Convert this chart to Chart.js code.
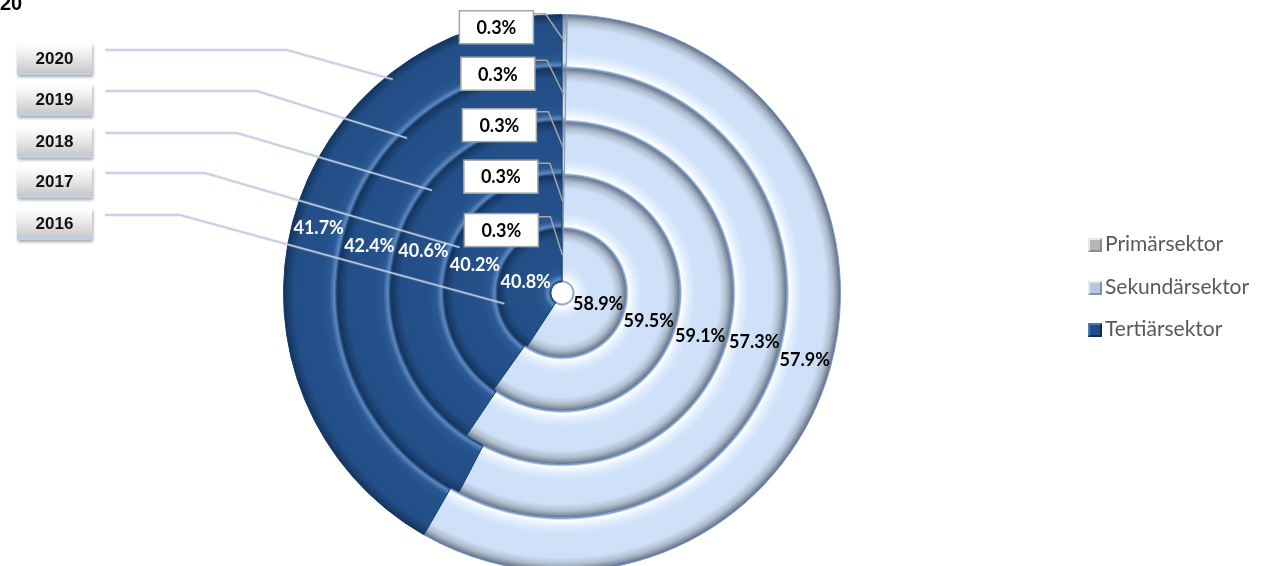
<!DOCTYPE html>
<html>
<head>
<meta charset="utf-8">
<script src="https://cdn.jsdelivr.net/npm/chart.js@4.4.0/dist/chart.umd.min.js"></script>
<style>
  html, body { margin: 0; padding: 0; background: #fff; width: 1270px; height: 566px; overflow: hidden; }
  #wrap { position: absolute; left: 0; top: 0; width: 1270px; height: 600px; }
  .titel { position: absolute; left: 0; top: -8px; font: bold 20px "Liberation Sans", Arial, sans-serif; color: #000; }
  .jahr { position: absolute; left: 17px; width: 75px; height: 31px; box-sizing: border-box;
          background: linear-gradient(#ffffff, #ececec 40%, #c8c8c8);
          border-bottom: 2px solid #bcd0ea; box-shadow: 1px 2px 3px rgba(0,0,0,.35);
          font: bold 17px "Liberation Sans", Arial, sans-serif; color: #111; text-align: center; line-height: 30px; }
  .lg { position: absolute; left: 1088px; height: 26px; font: 21px Lato, "Open Sans", sans-serif; color: #595959; line-height: 26px; white-space: nowrap; }
  .lg i { display: inline-block; width: 10px; height: 10px; border: 2px solid; margin-right: 3px; vertical-align: -1px; }
</style>
</head>
<body>
<div id="wrap"><canvas id="ringe"></canvas></div>
<div class="titel">20</div>
<div id="jahre"></div>
<div id="legende"></div>
<script>
// Ringe von außen (2020) nach innen (2016)
const jahre = ['2020', '2019', '2018', '2017', '2016'];
const sektoren = ['Primärsektor', 'Sekundärsektor', 'Tertiärsektor'];
const primaer = [0.3, 0.3, 0.3, 0.3, 0.3];
const sekundaer = [57.9, 57.3, 59.1, 59.5, 58.9];
const tertiaer = [41.7, 42.4, 40.6, 40.2, 40.8];

const flach = ['#c3ccd8', '#cfe1f9', '#24518a'];
const verlauf = [
  [[0, '#7f8da0'], [0.1, '#dfe5ee'], [0.5, '#c3ccd8'], [0.9, '#8d99aa'], [1, '#5d6d84']],
  [[0, '#6f95c8'], [0.04, '#ffffff'], [0.13, '#e6f0fd'], [0.28, '#d0e2fa'], [0.74, '#cde0f8'], [0.87, '#aebccd'], [0.96, '#7b8798'], [1, '#47699c']],
  [[0, '#1d4475'], [0.05, '#5d88c2'], [0.14, '#2a5892'], [0.3, '#24518a'], [0.8, '#234f88'], [0.93, '#1a3e6d'], [1, '#12305a']]
];
const randFarbe = ['#8a96a6', '#7d9cc6', '#1a3f6e'];

function ringFill(ctx) {
  if (ctx.type !== 'data') return flach[0];
  const chart = ctx.chart, a = chart.chartArea;
  const base = flach[ctx.dataIndex];
  if (!a) return base;
  const ctrl = chart.getDatasetMeta(ctx.datasetIndex).controller;
  const r0 = ctrl.innerRadius, r1 = ctrl.outerRadius;
  if (!(r1 > r0)) return base;
  const cx = (a.left + a.right) / 2, cy = (a.top + a.bottom) / 2;
  const g = chart.ctx.createRadialGradient(cx, cy, r0, cx, cy, r1);
  verlauf[ctx.dataIndex].forEach(s => g.addColorStop(s[0], s[1]));
  return g;
}

// Jahreskästen links
const jahrTop = [44, 85, 127, 167, 209];
const linieKnick = [287, 257, 237, 205, 180];
const linieWinkel = [321.6, 315, 308.3, 294, 259.5];
jahre.forEach((j, i) => {
  const d = document.createElement('div');
  d.className = 'jahr';
  d.style.top = jahrTop[i] + 'px';
  d.textContent = j;
  document.getElementById('jahre').appendChild(d);
});

// Legende rechts
const iconFarben = [
  ['#e6e6e6', '#8c8c8c', '#b5b5b5'],
  ['#e0e8f2', '#7f93ad', '#b7c6da'],
  ['#4f78b0', '#0f2a4f', '#1f4e86']
];
sektoren.forEach((s, i) => {
  const d = document.createElement('div');
  d.className = 'lg';
  d.style.top = (230 + i * 42.5) + 'px';
  const f = iconFarben[i];
  d.innerHTML = '<i style="background:' + f[2] + ';border-color:' + f[0] + ' ' + f[1] + ' ' + f[1] + ' ' + f[0] + '"></i>' + s;
  document.getElementById('legende').appendChild(d);
});

const boxVersatz = [[-68, -14], [-66, -21], [-64, -23], [-62, -25], [-61, -25]];

const beschriftung = {
  id: 'beschriftung',
  afterDatasetsDraw(chart) {
    const c = chart.ctx;
    const a = chart.chartArea;
    const cx = (a.left + a.right) / 2, cy = (a.top + a.bottom) / 2;
    c.save();
    // Linien von den Jahreskästen zu den Ringen
    chart.data.datasets.forEach((ds, di) => {
      const ctrl = chart.getDatasetMeta(di).controller;
      const r = ctrl.outerRadius - 6;
      const w = linieWinkel[di] * Math.PI / 180;
      const ex = cx + r * Math.sin(w), ey = cy - r * Math.cos(w);
      const y = jahrTop[di] + 6;
      c.beginPath();
      c.moveTo(105, y);
      c.lineTo(linieKnick[di], y);
      c.lineTo(ex, ey);
      c.lineWidth = 3;
      c.strokeStyle = 'rgba(180,180,180,0.35)';
      c.stroke();
      c.lineWidth = 1.4;
      c.strokeStyle = '#bcd0ec';
      c.stroke();
    });
    // Werte
    c.textAlign = 'center';
    c.textBaseline = 'middle';
    c.font = 'bold 18px Lato, "Open Sans", sans-serif';
    chart.data.datasets.forEach((ds, di) => {
      const meta = chart.getDatasetMeta(di);
      meta.data.forEach((arc, j) => {
        const p = arc.tooltipPosition();
        const txt = ds.data[j].toFixed(1) + '%';
        if (j === 0) {
          const bx = p.x + boxVersatz[di][0], by = p.y + boxVersatz[di][1];
          const bw = 74, bh = 33;
          const left = bx - bw / 2, top = by - bh / 2;
          c.beginPath();
          c.moveTo(left + bw, top + 3);
          c.lineTo(left + bw + 12, top + 3);
          c.lineTo(p.x, p.y);
          c.lineWidth = 1.5;
          c.strokeStyle = '#a6a6a6';
          c.stroke();
          c.fillStyle = '#ffffff';
          c.fillRect(left, top, bw, bh);
          c.strokeRect(left, top, bw, bh);
          c.fillStyle = '#000';
          c.fillText(txt, bx, by + 1);
        } else {
          c.fillStyle = j === 2 ? '#ffffff' : '#000000';
          c.fillText(txt, p.x, p.y);
        }
      });
    });
    c.restore();
  }
};

const datensaetze = jahre.map((j, i) => ({
  label: j,
  data: [primaer[i], sekundaer[i], tertiaer[i]],
  backgroundColor: ringFill,
  borderColor: randFarbe,
  borderWidth: 1
}));

new Chart(document.getElementById('ringe'), {
  type: 'doughnut',
  data: { labels: sektoren, datasets: datensaetze },
  options: {
    responsive: true,
    maintainAspectRatio: false,
    animation: false,
    cutout: '4%',
    layout: { padding: { left: 283, right: 429, top: 14, bottom: 28 } },
    plugins: { legend: { display: false }, tooltip: { enabled: false } }
  },
  plugins: [beschriftung]
});
</script>
</body>
</html>
